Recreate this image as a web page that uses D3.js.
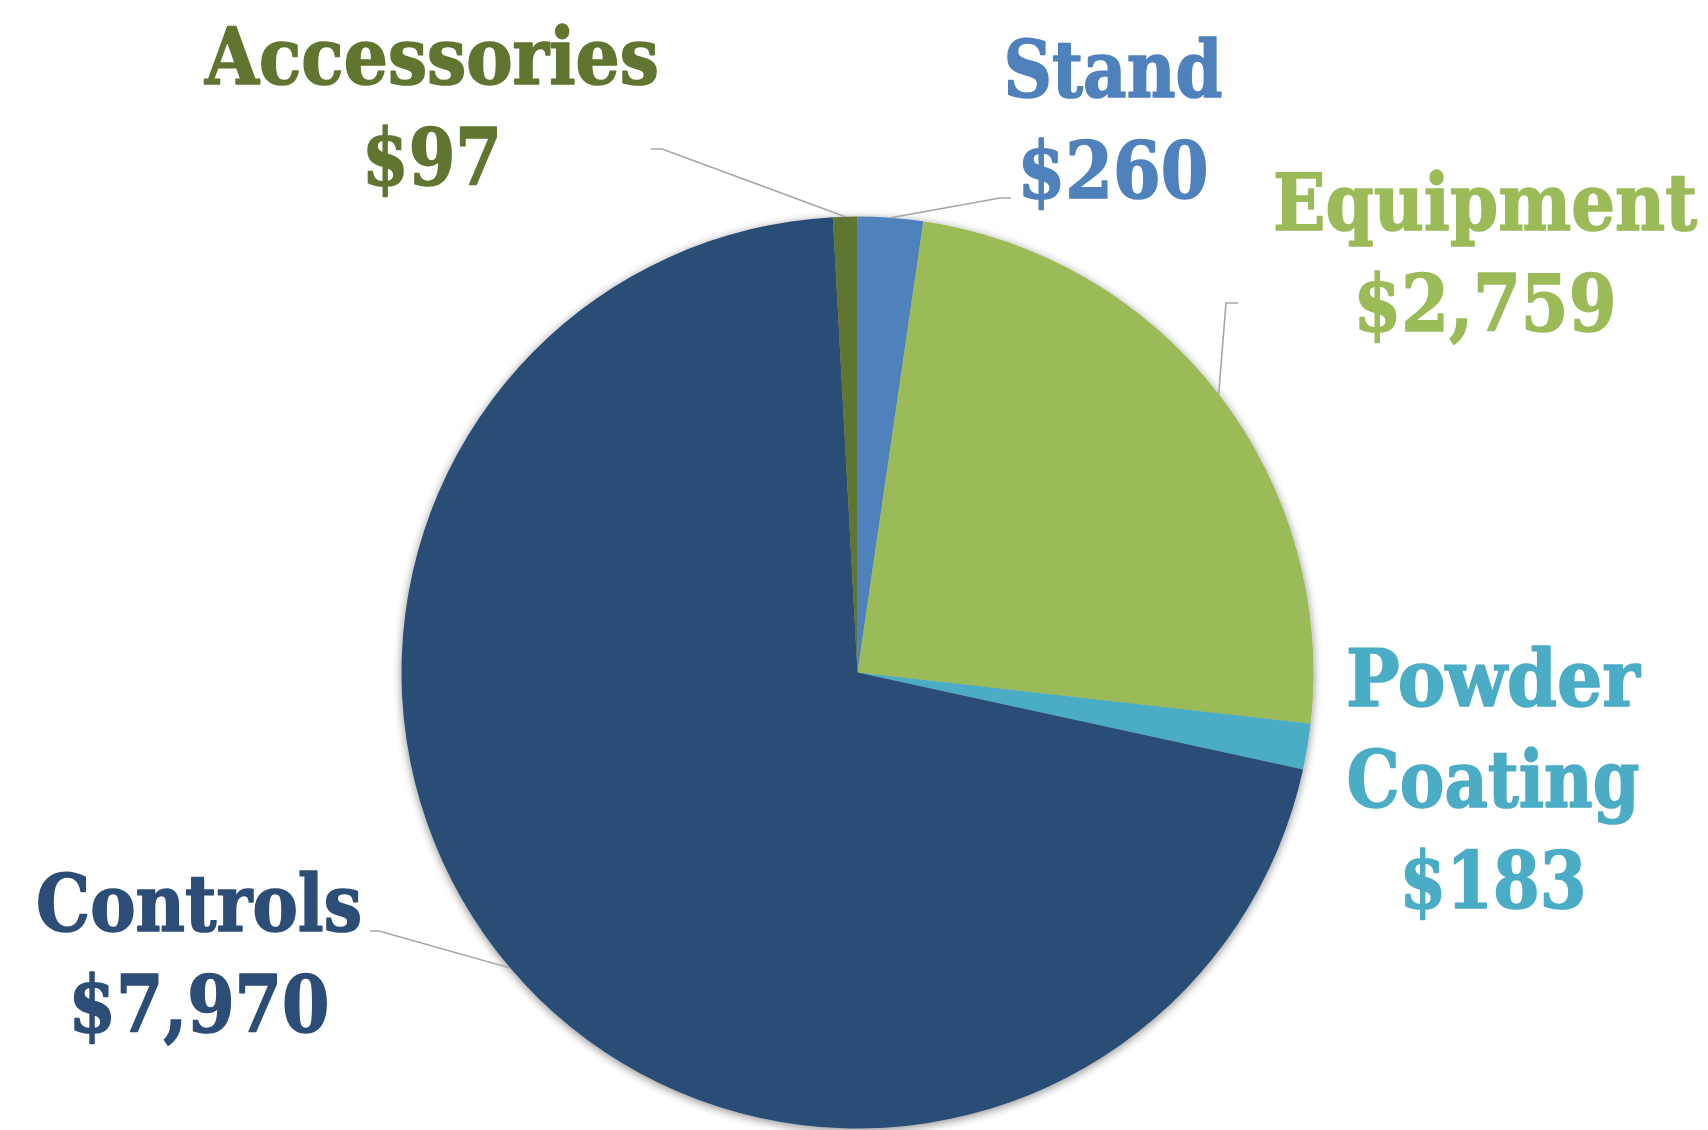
<!DOCTYPE html>
<html>
<head>
<meta charset="utf-8">
<script src="https://cdn.jsdelivr.net/npm/d3@7"></script>
<style>
  html, body { margin: 0; padding: 0; background: #ffffff; }
  svg { display: block; }
</style>
</head>
<body>
<svg id="chart" width="1708" height="1130"></svg>
<script>
// ---- data ----
const categories = ["Stand", "Equipment", "Powder Coating", "Controls", "Accessories"];
const values = [260, 2759, 183, 7970, 97];
const valueLabels = ["$260", "$2,759", "$183", "$7,970", "$97"];
const colors = ["#4F81BD", "#9BBB59", "#4BACC6", "#2C4D75", "#5F7530"];

// ---- layout (positions / sizes) ----
const W = 1708, H = 1130;
const cx = 857.5, cy = 672.5, R = 456;
const lineGap = 101;
const fontSize = 78;
// label blocks: center x, first baseline, width per line, leader elbow (or null)
const labelLayout = {
  "Stand":          { x: 1113, y: 97,  lines: ["Stand"], widths: [219, 191], leader: [[1000, 198], [1011, 198]] },
  "Equipment":      { x: 1485, y: 230, lines: ["Equipment"], widths: [424, 263], leader: [[1226, 303], [1238, 303]] },
  "Powder Coating": { x: 1493, y: 706, lines: ["Powder", "Coating"], widths: [294, 293, 187], leader: null },
  "Controls":       { x: 199,  y: 931, lines: ["Controls"], widths: [326, 261], leader: [[379, 931], [370, 931]] },
  "Accessories":    { x: 432,  y: 84,  lines: ["Accessories"], widths: [454, 140], leader: [[662, 149], [651, 149]] }
};

const svg = d3.select("#chart");
const defs = svg.append("defs");
const f = defs.append("filter").attr("id", "shadow")
  .attr("x", "-10%").attr("y", "-10%").attr("width", "120%").attr("height", "120%");
f.append("feGaussianBlur").attr("in", "SourceAlpha").attr("stdDeviation", 5).attr("result", "b");
f.append("feOffset").attr("in", "b").attr("dx", 0).attr("dy", 2).attr("result", "o");
f.append("feComponentTransfer").attr("in", "o").attr("result", "s")
  .append("feFuncA").attr("type", "linear").attr("slope", 0.45);
const m = f.append("feMerge");
m.append("feMergeNode").attr("in", "s");
m.append("feMergeNode").attr("in", "SourceGraphic");

const data = categories.map((c, i) => ({ name: c, value: values[i], label: valueLabels[i], color: colors[i] }));

const pie = d3.pie().value(d => d.value).sort(null);
const arcs = pie(data);
const arc = d3.arc().innerRadius(0).outerRadius(R);

const g = svg.append("g").attr("transform", `translate(${cx},${cy})`).attr("filter", "url(#shadow)");
g.selectAll("path").data(arcs).join("path")
  .attr("d", arc)
  .attr("fill", d => d.data.color);

// leader lines
const lg = svg.append("g");
arcs.forEach(a => {
  const L = labelLayout[a.data.name];
  if (!L.leader) return;
  const mid = (a.startAngle + a.endAngle) / 2;
  const ex = cx + R * Math.sin(mid), ey = cy - R * Math.cos(mid);
  const pts = [[ex, ey], ...L.leader];
  lg.append("path")
    .attr("d", d3.line()(pts))
    .attr("fill", "none")
    .attr("stroke", "#A6A6A6")
    .attr("stroke-width", 1.6);
});

// labels (scaled horizontally to the reference widths)
const tg = svg.append("g");
arcs.forEach(a => {
  const L = labelLayout[a.data.name];
  const lines = [...L.lines, a.data.label];
  lines.forEach((t, i) => {
    const holder = tg.append("g");
    const txt = holder.append("text")
      .attr("x", 0)
      .attr("y", 0)
      .attr("text-anchor", "middle")
      .attr("font-family", "'DejaVu Serif', 'Liberation Serif', serif")
      .attr("font-weight", "bold")
      .attr("font-size", fontSize)
      .attr("fill", a.data.color)
      .attr("stroke", a.data.color)
      .attr("stroke-width", 1.6)
      .attr("stroke-linejoin", "round")
      .text(t);
    const natural = txt.node().getComputedTextLength() || L.widths[i];
    const sx = L.widths[i] / natural;
    holder.attr("transform", `translate(${L.x},${L.y + i * lineGap}) scale(${sx},1)`);
  });
});
</script>
</body>
</html>
